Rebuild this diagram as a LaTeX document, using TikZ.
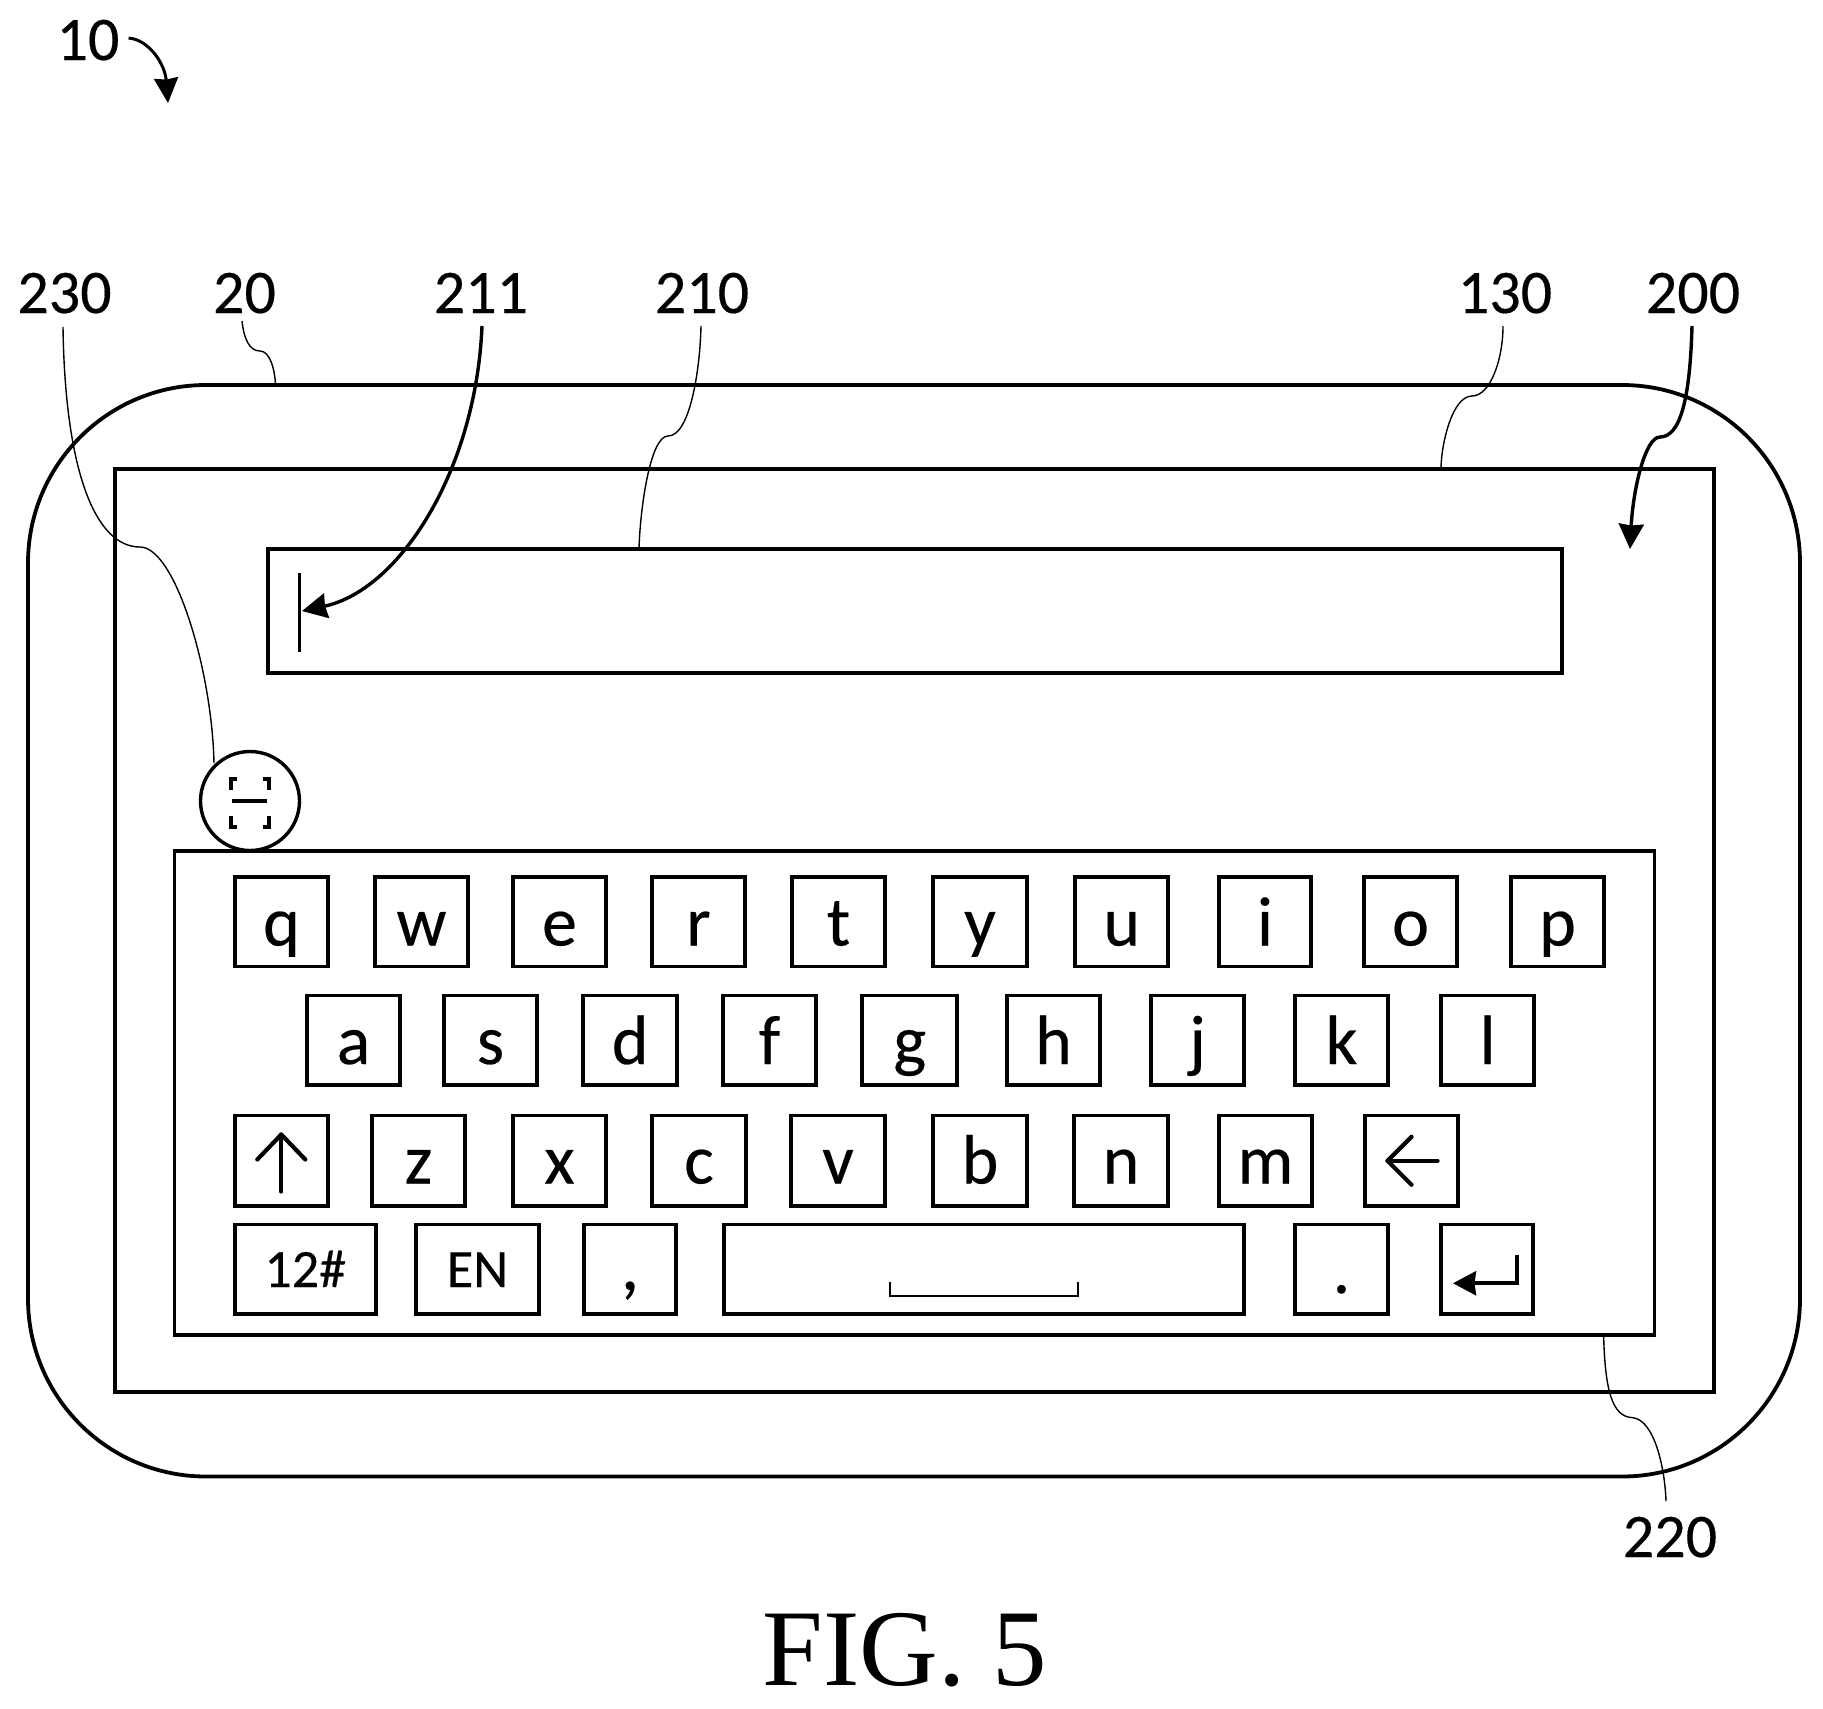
\documentclass[tikz,border=0pt]{standalone}
\usepackage{fontspec}
\setmainfont{Carlito}
\newfontfamily\heavyfont[FakeBold=0.3]{Carlito}
\newfontfamily\figfont{Liberation Serif}
\usetikzlibrary{arrows.meta}
\tikzset{
  panel/.style={draw=black,line width=3.8pt,inner sep=0pt,outer sep=0pt,fill=none},
  keyface/.style={draw=black,line width=3.8pt,inner sep=0pt,outer sep=0pt},
  refnum/.style={inner xsep=0pt,inner ysep=0pt,font=\heavyfont\fontsize{62}{62}\selectfont,anchor=base},
  leader/.style={line width=1.4pt,draw=black},
  bigarrow/.style={line width=3.4pt,draw=black,-{Stealth[length=25pt,width=25pt,inset=1.5pt]}},
  glyphline/.style={line width=4.2pt,draw=black,line cap=round,line join=round},
}
\newcommand\panelbox[6][]{% [opts] name x1 y1 x2 y2
  \pgfmathsetmacro\pw{#5-#3}\pgfmathsetmacro\ph{#6-#4}
  \pgfmathsetmacro\pcx{(#3+#5)/2}\pgfmathsetmacro\pcy{(#4+#6)/2}
  \node[panel,minimum width=\pw pt,minimum height=\ph pt,#1] (#2) at (\pcx,\pcy) {};}
\newcommand\keybox[8][70]{% [size] name x1 y1 x2 y2 baseline text
  \pgfmathsetmacro\pw{#5-#3-1.6}\pgfmathsetmacro\pa{#7-#4}\pgfmathsetmacro\pd{#6-#7}
  \pgfmathsetmacro\pcx{(#3+#5)/2}\pgfmathsetmacro\pcy{(#4+#6)/2}
  \node[keyface,minimum width=\pw pt,text height=\pa pt,text depth=\pd pt,
        font=\heavyfont\fontsize{#1}{#1}\selectfont] (#2) at (\pcx,\pcy) {#8};}
\begin{document}
\begin{tikzpicture}[x=1pt,y=-1pt]
\useasboundingbox[fill=white] (0,0) rectangle (1823,1708);
% body and panels
\node[panel,rounded corners=178pt,minimum width=1772pt,minimum height=1091.5pt] (outer) at (914,930.75) {};
\panelbox{screen}{115}{469}{1714}{1392}
\panelbox{inputbar}{268}{549}{1562}{673}
\panelbox{keyboard}{174.5}{851}{1654.5}{1335}
\node[draw=black,line width=3.4pt,circle,inner sep=0pt,outer sep=0pt,minimum size=99pt,fill=white] (scan) at (250,801) {};
% scan icon
\coordinate (ic) at (scan.center);
\draw[line width=3.4pt] ([shift={(-13,-22)}]ic) -- ([shift={(-19,-22)}]ic) -- ([shift={(-19,-11)}]ic);
\draw[line width=3.4pt] ([shift={(13,-22)}]ic) -- ([shift={(19,-22)}]ic) -- ([shift={(19,-11)}]ic);
\draw[line width=3.4pt] ([shift={(-13,26)}]ic) -- ([shift={(-19,26)}]ic) -- ([shift={(-19,15)}]ic);
\draw[line width=3.4pt] ([shift={(13,26)}]ic) -- ([shift={(19,26)}]ic) -- ([shift={(19,15)}]ic);
\draw[line width=3.4pt] ([shift={(-18,0)}]ic) -- ([shift={(17,0)}]ic);
% cursor
\coordinate (curtop) at (299.5,573);
\coordinate (curbot) at (299.5,652);
\coordinate (curtip) at (302,611);
\draw[line width=3.8pt] (curtop) -- (curbot);
% row 1
\def\rA{877}\def\rB{966.5}\def\rC{945.5}
\keybox{kq}{234}{\rA}{329}{\rB}{\rC}{q}
\keybox{kw}{374}{\rA}{469}{\rB}{\rC}{w}
\keybox{ke}{512}{\rA}{607}{\rB}{\rC}{e}
\keybox{kr}{651}{\rA}{746}{\rB}{\rC}{r}
\keybox{kt}{791}{\rA}{886}{\rB}{\rC}{t}
\keybox{ky}{932}{\rA}{1028}{\rB}{\rC}{y}
\keybox{ku}{1074.5}{\rA}{1169}{\rB}{\rC}{u}
\keybox{ki}{1218}{\rA}{1312}{\rB}{\rC}{i}
\keybox{ko}{1363}{\rA}{1458}{\rB}{\rC}{o}
\keybox{kp}{1510}{\rA}{1605}{\rB}{\rC}{p}
% row 2
\def\rA{995.5}\def\rB{1085}\def\rC{1064}
\keybox{ka}{306}{\rA}{401}{\rB}{\rC}{a}
\keybox{ks}{443}{\rA}{538}{\rB}{\rC}{s}
\keybox{kd}{582.5}{\rA}{678}{\rB}{\rC}{d}
\keybox{kf}{722}{\rA}{817}{\rB}{\rC}{f}
\keybox{kg}{861.5}{\rA}{958}{\rB}{\rC}{g}
\keybox{kh}{1006}{\rA}{1101}{\rB}{\rC}{h}
\keybox{kj}{1150}{\rA}{1245}{\rB}{\rC}{j}
\keybox{kk}{1294}{\rA}{1389}{\rB}{\rC}{k}
\keybox{kl}{1440}{\rA}{1535}{\rB}{\rC}{l}
% row 3
\def\rA{1115.5}\def\rB{1206}\def\rC{1183.5}
\keybox{kshift}{234}{\rA}{328.6}{\rB}{\rC}{}
\keybox{kz}{371}{\rA}{466}{\rB}{\rC}{z}
\keybox{kx}{512}{\rA}{607}{\rB}{\rC}{x}
\keybox{kc}{651.5}{\rA}{746.5}{\rB}{\rC}{c}
\keybox{kv}{790}{\rA}{886}{\rB}{\rC}{v}
\keybox{kb}{932}{\rA}{1028}{\rB}{\rC}{b}
\keybox{kn}{1073.5}{\rA}{1168.5}{\rB}{\rC}{n}
\keybox{km}{1218}{\rA}{1313}{\rB}{\rC}{m}
\keybox{kback}{1364}{\rA}{1459}{\rB}{\rC}{}
% row 4
\def\rA{1224.5}\def\rB{1314}\def\rC{1287}
\keybox[54]{knum}{234}{\rA}{376.5}{\rB}{\rC}{12\#}
\keybox[54]{ken}{415}{\rA}{540}{\rB}{\rC}{EN}
\keybox[75]{kcomma}{583}{\rA}{677}{\rB}{1290}{,}
\keybox{kspace}{723}{\rA}{1245}{\rB}{\rC}{}
\keybox[70]{kdot}{1294}{\rA}{1389}{\rB}{1293}{.}
\keybox{kenter}{1440}{\rA}{1534}{\rB}{\rC}{}
% key glyphs
\draw[glyphline] ([shift={(0,19)}]kshift.north) -- ([shift={(0,76)}]kshift.north);
\draw[glyphline] ([shift={(-24,44)}]kshift.north) -- ([shift={(0,19)}]kshift.north) -- ([shift={(24,44)}]kshift.north);
\draw[glyphline] ([shift={(-24,0)}]kback.center) -- ([shift={(26,0)}]kback.center);
\draw[glyphline] ([shift={(0,-24)}]kback.center) -- ([shift={(-24,0)}]kback.center) -- ([shift={(0,24)}]kback.center);
\draw[line width=3.6pt,-{Stealth[length=23pt,width=24pt,inset=1.5pt]}] ([shift={(30,-14)}]kenter.center) -- ([shift={(30,14)}]kenter.center) -- ([shift={(-34,14)}]kenter.center);
\draw[line width=1.8pt] ([shift={(-94,13)}]kspace.center) -- ([shift={(-94,26.5)}]kspace.center) -- ([shift={(94,26.5)}]kspace.center) -- ([shift={(94,13)}]kspace.center);
% reference numerals
\node[refnum] (n10) at (88,60) {10};
\node[refnum] (n230) at (64.5,313) {230};
\node[refnum] (n20) at (244.5,313) {20};
\node[refnum] (n211) at (481,313) {211};
\node[refnum] (n210) at (702,313) {210};
\node[refnum] (n130) at (1505,313) {130};
\node[refnum] (n200) at (1693,313) {200};
\node[refnum] (n220) at (1670,1557) {220};
\node[anchor=base,inner sep=0pt,font=\figfont\fontsize{109}{110}\selectfont] (figlabel) at (905,1685) {FIG. 5};
% leader ends
\coordinate (s10) at (128.6,38);
\coordinate (t10) at (168,103);
\coordinate (s230) at (63,327);
\coordinate (e230) at (214,763);
\coordinate (s20) at (242,321);
\coordinate (e20) at (275.5,385);
\coordinate (s211) at (482,326);
\coordinate (s210) at (701,326);
\coordinate (e210) at (639,549);
\coordinate (s130) at (1503,326);
\coordinate (e130) at (1441,469);
\coordinate (s200) at (1692,326);
\coordinate (t200) at (1630,549);
\coordinate (s220) at (1603.6,1335);
\coordinate (e220) at (1666,1501);
% connectors
\draw[line width=3pt,-{Stealth[length=25pt,width=24pt,inset=1.5pt]}] (s10) .. controls (150,40) and (165,65) .. (t10);
\draw[leader] (s230) .. controls (65,470) and (95,547) .. (140,547) .. controls (175,547) and (212,670) .. (e230);
\draw[leader] (s20) .. controls (244,340) and (250,351) .. (260,351) .. controls (270,351) and (275,370) .. (e20);
\draw[bigarrow] (s211) .. controls (476,470) and (400,590) .. (curtip);
\draw[leader] (s210) .. controls (700,370) and (690,436) .. (668,436) .. controls (650,436) and (640,510) .. (e210);
\draw[leader] (s130) .. controls (1503,360) and (1490,396) .. (1472,396) .. controls (1452,396) and (1441,445) .. (e130);
\draw[bigarrow] (s200) .. controls (1690,400) and (1680,437) .. (1660,437) .. controls (1645,437) and (1633,490) .. (t200);
\draw[leader] (s220) .. controls (1605,1390) and (1612,1417) .. (1632.5,1417.6) .. controls (1655,1420) and (1665,1470) .. (e220);
\end{tikzpicture}
\end{document}
